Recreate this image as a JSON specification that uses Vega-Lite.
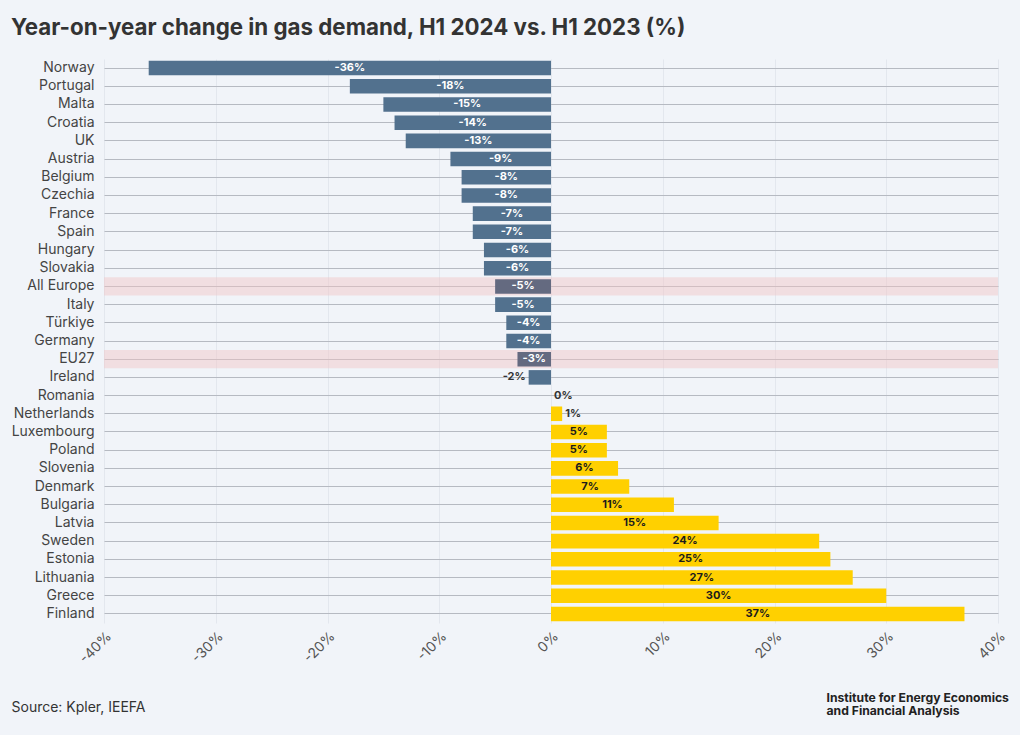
{
  "$schema": "https://vega.github.io/schema/vega-lite/v6.json",
  "width": 894,
  "height": 564,
  "autosize": {"type": "none"},
  "padding": {"left": 104, "top": 59, "right": 22, "bottom": 112},
  "background": "#f1f4f9",
  "config": {"font": "Inter", "view": {"stroke": null}},
  "title": {
    "text": "Year-on-year change in gas demand, H1 2024 vs. H1 2023 (%)",
    "anchor": "start",
    "frame": "group",
    "dx": -93,
    "fontSize": 22.3,
    "fontWeight": "bold",
    "color": "#333333",
    "offset": 20
  },
  "data": {
    "values": [
      {"country": "Norway", "value": -36, "group": "country"},
      {"country": "Portugal", "value": -18, "group": "country"},
      {"country": "Malta", "value": -15, "group": "country"},
      {"country": "Croatia", "value": -14, "group": "country"},
      {"country": "UK", "value": -13, "group": "country"},
      {"country": "Austria", "value": -9, "group": "country"},
      {"country": "Belgium", "value": -8, "group": "country"},
      {"country": "Czechia", "value": -8, "group": "country"},
      {"country": "France", "value": -7, "group": "country"},
      {"country": "Spain", "value": -7, "group": "country"},
      {"country": "Hungary", "value": -6, "group": "country"},
      {"country": "Slovakia", "value": -6, "group": "country"},
      {"country": "All Europe", "value": -5, "group": "aggregate"},
      {"country": "Italy", "value": -5, "group": "country"},
      {"country": "Türkiye", "value": -4, "group": "country"},
      {"country": "Germany", "value": -4, "group": "country"},
      {"country": "EU27", "value": -3, "group": "aggregate"},
      {"country": "Ireland", "value": -2, "group": "country"},
      {"country": "Romania", "value": 0, "group": "country"},
      {"country": "Netherlands", "value": 1, "group": "country"},
      {"country": "Luxembourg", "value": 5, "group": "country"},
      {"country": "Poland", "value": 5, "group": "country"},
      {"country": "Slovenia", "value": 6, "group": "country"},
      {"country": "Denmark", "value": 7, "group": "country"},
      {"country": "Bulgaria", "value": 11, "group": "country"},
      {"country": "Latvia", "value": 15, "group": "country"},
      {"country": "Sweden", "value": 24, "group": "country"},
      {"country": "Estonia", "value": 25, "group": "country"},
      {"country": "Lithuania", "value": 27, "group": "country"},
      {"country": "Greece", "value": 30, "group": "country"},
      {"country": "Finland", "value": 37, "group": "country"}
    ]
  },
  "transform": [
    {"calculate": "datum.value / 2", "as": "mid"},
    {"calculate": "datum.value + '%'", "as": "label"}
  ],
  "resolve": {"axis": {"y": "independent"}},
  "layer": [
    {
      "transform": [{"filter": "datum.group == 'aggregate'"}],
      "mark": {"type": "rect", "color": "#f2c4c4", "opacity": 0.45},
      "encoding": {
        "y": {
          "field": "country", "type": "nominal", "sort": null,
          "scale": {"domain": ["Norway","Portugal","Malta","Croatia","UK","Austria","Belgium","Czechia","France","Spain","Hungary","Slovakia","All Europe","Italy","Türkiye","Germany","EU27","Ireland","Romania","Netherlands","Luxembourg","Poland","Slovenia","Denmark","Bulgaria","Latvia","Sweden","Estonia","Lithuania","Greece","Finland"], "paddingInner": 0, "paddingOuter": 0},
          "axis": null
        },
        "x": {"datum": -40, "type": "quantitative"},
        "x2": {"datum": 40}
      }
    },
    {
      "mark": {"type": "bar", "color": "#52718e", "height": {"band": 0.8}},
      "encoding": {
        "y": {
          "field": "country", "type": "nominal", "sort": null,
          "scale": {"domain": ["Norway","Portugal","Malta","Croatia","UK","Austria","Belgium","Czechia","France","Spain","Hungary","Slovakia","All Europe","Italy","Türkiye","Germany","EU27","Ireland","Romania","Netherlands","Luxembourg","Poland","Slovenia","Denmark","Bulgaria","Latvia","Sweden","Estonia","Lithuania","Greece","Finland"], "paddingInner": 0, "paddingOuter": 0},
          "axis": {
            "title": null, "labelFontSize": 14, "labelColor": "#444444", "labelPadding": 10,
            "ticks": false, "domain": false, "grid": true, "gridColor": "#b6bac2", "gridWidth": 1,
            "bandPosition": 0.5
          }
        },
        "x": {
          "field": "value", "type": "quantitative",
          "scale": {"domain": [-40, 40], "nice": false},
          "axis": {
            "values": [-40, -30, -20, -10, 0, 10, 20, 30, 40],
            "labelExpr": "datum.value + '%'",
            "labelAngle": -45, "labelFontSize": 14, "labelColor": "#555555", "labelPadding": 6,
            "grid": true, "gridColor": "#e3e7ee", "domain": false, "ticks": false,
            "title": "Source: Kpler, IEEFA", "titleFontSize": 14, "titleFontWeight": "normal",
            "titleColor": "#333333", "titleAnchor": "start", "titleAlign": "left",
            "titleBaseline": "middle", "titleX": -93, "titleY": 84
          }
        },
        "color": {
          "condition": [
            {"test": "datum.group == 'aggregate'", "value": "#646a80"},
            {"test": "datum.value > 0", "value": "#ffd000"}
          ],
          "value": "#52718e"
        }
      }
    },
    {
      "transform": [{"filter": "abs(datum.value) >= 3"}],
      "mark": {"type": "text", "fontSize": 11, "fontWeight": "bold", "align": "center", "baseline": "middle"},
      "encoding": {
        "y": {
          "field": "country", "type": "nominal", "sort": null,
          "scale": {"domain": ["Norway","Portugal","Malta","Croatia","UK","Austria","Belgium","Czechia","France","Spain","Hungary","Slovakia","All Europe","Italy","Türkiye","Germany","EU27","Ireland","Romania","Netherlands","Luxembourg","Poland","Slovenia","Denmark","Bulgaria","Latvia","Sweden","Estonia","Lithuania","Greece","Finland"]},
          "axis": {
            "orient": "right", "labels": false, "ticks": false, "domain": false, "grid": false,
            "title": ["Institute for Energy Economics", "and Financial Analysis"],
            "titleAngle": 0, "titleAlign": "left", "titleBaseline": "top",
            "titleX": -172, "titleY": 632, "titleFontSize": 12.2, "titleFontWeight": "bold",
            "titleColor": "#222222", "titleLineHeight": 13.5
          }
        },
        "x": {"field": "mid", "type": "quantitative"},
        "text": {"field": "label"},
        "color": {"condition": {"test": "datum.value < 0", "value": "#ffffff"}, "value": "#1c1c1c"}
      }
    },
    {
      "transform": [{"filter": "datum.value < 0 && abs(datum.value) < 3"}],
      "mark": {"type": "text", "fontSize": 11, "fontWeight": "bold", "align": "right", "baseline": "middle", "dx": -3, "color": "#333333"},
      "encoding": {
        "y": {
          "field": "country", "type": "nominal", "sort": null,
          "scale": {"domain": ["Norway","Portugal","Malta","Croatia","UK","Austria","Belgium","Czechia","France","Spain","Hungary","Slovakia","All Europe","Italy","Türkiye","Germany","EU27","Ireland","Romania","Netherlands","Luxembourg","Poland","Slovenia","Denmark","Bulgaria","Latvia","Sweden","Estonia","Lithuania","Greece","Finland"]},
          "axis": null
        },
        "x": {"field": "value", "type": "quantitative"},
        "text": {"field": "label"}
      }
    },
    {
      "transform": [{"filter": "datum.value >= 0 && datum.value < 3"}],
      "mark": {"type": "text", "fontSize": 11, "fontWeight": "bold", "align": "left", "baseline": "middle", "dx": 3, "color": "#333333"},
      "encoding": {
        "y": {
          "field": "country", "type": "nominal", "sort": null,
          "scale": {"domain": ["Norway","Portugal","Malta","Croatia","UK","Austria","Belgium","Czechia","France","Spain","Hungary","Slovakia","All Europe","Italy","Türkiye","Germany","EU27","Ireland","Romania","Netherlands","Luxembourg","Poland","Slovenia","Denmark","Bulgaria","Latvia","Sweden","Estonia","Lithuania","Greece","Finland"]},
          "axis": null
        },
        "x": {"field": "value", "type": "quantitative"},
        "text": {"field": "label"}
      }
    }
  ]
}
